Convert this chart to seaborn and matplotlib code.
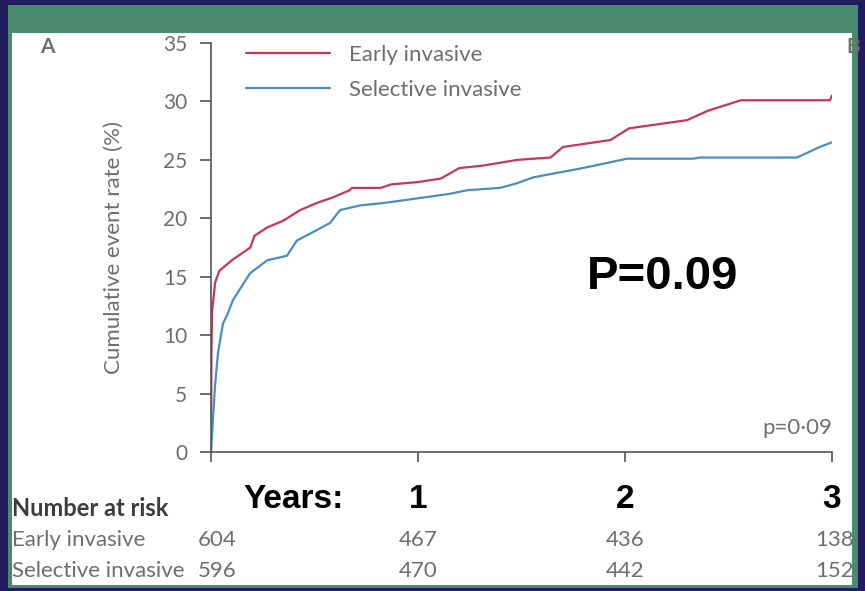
import pandas as pd
import numpy as np
import matplotlib.pyplot as plt
import seaborn as sns
from matplotlib.patches import Rectangle
from matplotlib.transforms import blended_transform_factory

# Curve points (years, cumulative event rate %)
early_years = [0, 0.002, 0.005, 0.02, 0.04, 0.1, 0.19, 0.21, 0.27, 0.35, 0.43, 0.51,
               0.59, 0.67, 0.68, 0.82, 0.87, 1.0, 1.11, 1.2, 1.31, 1.48, 1.64, 1.7,
               1.93, 2.02, 2.3, 2.4, 2.56, 2.99, 3.0]
early_rate = [0, 8, 12, 14.5, 15.5, 16.4, 17.5, 18.5, 19.2, 19.8, 20.7, 21.3,
              21.8, 22.4, 22.6, 22.6, 22.9, 23.1, 23.4, 24.3, 24.5, 25.0, 25.2, 26.1,
              26.7, 27.7, 28.4, 29.2, 30.1, 30.1, 30.5]

selective_years = [0, 0.019, 0.034, 0.058, 0.08, 0.106, 0.189, 0.271, 0.367, 0.415,
                   0.512, 0.575, 0.623, 0.72, 0.83, 0.995, 1.155, 1.237, 1.396, 1.478,
                   1.556, 1.797, 2.01, 2.33, 2.36, 2.83, 2.88, 2.94, 3.0]
selective_rate = [0, 5.6, 8.5, 11, 11.8, 13.0, 15.3, 16.4, 16.8, 18.1,
                  19.0, 19.6, 20.7, 21.1, 21.3, 21.7, 22.1, 22.4, 22.6, 23.0,
                  23.5, 24.3, 25.1, 25.1, 25.2, 25.2, 25.6, 26.1, 26.5]

groups = ['Early invasive', 'Selective invasive']
risk_years = [0, 1, 2, 3]
risk_early = [604, 467, 436, 138]
risk_selective = [596, 470, 442, 152]

df = pd.concat([
    pd.DataFrame({'Years': early_years, 'Rate': early_rate, 'Group': groups[0]}),
    pd.DataFrame({'Years': selective_years, 'Rate': selective_rate, 'Group': groups[1]}),
])

sns.set_style('white')
plt.rcParams['font.family'] = ['Lato', 'DejaVu Sans']

W, H = 865, 591
navy = '#221e5e'
green = '#4a8a6e'
grey = '#6e6e6e'

fig = plt.figure(figsize=(W / 100, H / 100), dpi=100, facecolor=navy)
# green slide band and white picture panel
fig.add_artist(Rectangle((8 / W, 3 / H), 850 / W, 583 / H, transform=fig.transFigure,
                         facecolor=green, edgecolor='none', zorder=0))
fig.add_artist(Rectangle((12 / W, 6 / H), 840 / W, 552 / H, transform=fig.transFigure,
                         facecolor='white', edgecolor='none', zorder=0))

ax = fig.add_axes([211 / W, (H - 452) / H, 621 / W, 409 / H])
ax.set_facecolor('none')
sns.lineplot(data=df, x='Years', y='Rate', hue='Group', palette=['#cc3358', '#4a8cc4'],
             linewidth=1.6, ax=ax)

ax.set_xlim(0, 3)
ax.set_ylim(0, 35)
ax.set_yticks(range(0, 36, 5))
ax.set_xticks(risk_years)
ax.set_xticklabels(['', '1', '2', '3'], fontsize=24, fontweight='bold',
                   family=['Liberation Sans'], color='black')
sns.despine(ax=ax)
for side in ['left', 'bottom']:
    ax.spines[side].set_color('#555555')
    ax.spines[side].set_linewidth(1.2)
ax.tick_params(axis='y', direction='out', length=8, width=1.2, color='#555555',
               labelsize=15, labelcolor=grey, pad=9, left=True)
ax.tick_params(axis='x', direction='out', length=7, width=1.2, color='#555555',
               pad=16, bottom=True)
ax.set_xlabel('')
ax.set_ylabel('Cumulative event rate (%)', fontsize=16, color=grey)
ax.yaxis.set_label_coords(-0.14, 0.5)

leg = ax.legend(loc='upper left', bbox_to_anchor=(0.024, 1.045), frameon=False,
                fontsize=16, handlelength=3.8, labelspacing=0.68, handletextpad=0.85)
for t in leg.get_texts():
    t.set_color(grey)

# slide annotations
ax.text(0.606, 0.428, 'P=0.09', transform=ax.transAxes, fontsize=34, fontweight='bold',
        family=['Liberation Sans'], color='black', ha='left', va='center')
ax.text(1.0, 0.058, 'p=0·09', transform=ax.transAxes, fontsize=16, color=grey,
        ha='right', va='center')
fig.text(243 / W, 1 - 499 / H, 'Years:', fontsize=24, fontweight='bold',
         family=['Liberation Sans'], color='black', ha='left', va='center')
fig.text(40 / W, 1 - 47 / H, 'A', fontsize=15, fontweight='bold', color=grey, va='center')
fig.text(846 / W, 1 - 47 / H, 'B', fontsize=15, fontweight='bold', color=grey, va='center')

# number at risk table
fig.text(12 / W, 1 - 508 / H, 'Number at risk', fontsize=17, fontweight='bold',
         color='#3c3c3c', va='center')
risk_tr = blended_transform_factory(ax.transData, fig.transFigure)
row_y = [540, 571]
nudge = {0: 0.03, 3: 0.012}
for name, counts, y in zip(groups, [risk_early, risk_selective], row_y):
    fig.text(12 / W, 1 - y / H, name, fontsize=16, color=grey, va='center')
    for yr, n in zip(risk_years, counts):
        ax.text(yr + nudge.get(yr, 0), 1 - y / H, str(n), transform=risk_tr,
                fontsize=16, color=grey, ha='center', va='center', clip_on=False)

plt.savefig('out.png', dpi=100, facecolor=navy)
plt.close()
